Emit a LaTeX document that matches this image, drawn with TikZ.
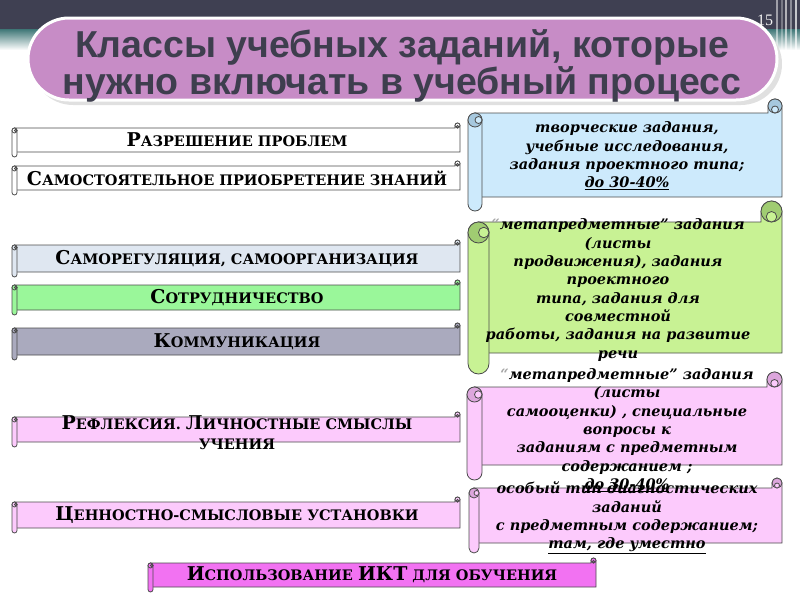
\documentclass[tikz,border=0pt]{standalone}
\usepackage{fontspec}
\setmainfont{Liberation Serif}
\newfontfamily\titlefont{Liberation Sans}
\newfontfamily\notefont{DejaVu Serif}

\definecolor{bandgray}{HTML}{3F4052}
\definecolor{bandteal}{HTML}{3E7676}
\definecolor{titlepink}{HTML}{C78CC6}
\definecolor{titletext}{HTML}{3E3E4E}
\definecolor{skyfill}{HTML}{CDEAFC}
\definecolor{skycurl}{HTML}{A6C8DE}
\definecolor{leaffill}{HTML}{C8F294}
\definecolor{leafcurl}{HTML}{A0CC72}
\definecolor{rosefill}{HTML}{FCCAFC}
\definecolor{rosecurl}{HTML}{DCA6DC}
\definecolor{mistfill}{HTML}{DFE7F1}
\definecolor{mintfill}{HTML}{9AF79A}
\definecolor{slatefill}{HTML}{AAAABE}
\definecolor{orchidfill}{HTML}{F272F2}

\newcommand{\bigc}[1]{{\fontsize{19}{21}\selectfont #1}}

\newcommand{\scrollshape}[7]{%
  \pgfmathsetmacro{\hc}{#5/2}%
  \pgfmathsetmacro{\qc}{#5/4}%
  \draw[scrollline,fill=#6] ({#1+\hc},{#2+#5}) -- ({#3-#5},{#2+#5}) -- ({#3-#5},{#2+\hc})
    arc[start angle=180,end angle=360,radius=\hc] -- (#3,{#4-#5}) -- ({#1+\hc},{#4-#5}) -- cycle;
  \draw[scrollline,fill=#7] ({#3-\hc},{#2+\hc}) circle[radius=\hc];
  \draw[scrollline,fill=#6] ({#3-\hc},{#2+#5-\qc}) circle[radius=\qc];
  \draw[scrollline,fill=#6,rounded corners=\hc pt] (#1,{#2+#5}) rectangle ({#1+#5},#4);
  \draw[scrollline,fill=#7] ({#1+\hc},{#2+#5+\hc}) circle[radius=\hc];
  \draw[scrollline,fill=#6] ({#1+\hc+\qc},{#2+#5+\hc}) circle[radius=\qc];
}

\begin{document}
\begin{tikzpicture}[x=1pt,y=-1pt,
  scrollline/.style={draw=black!70,line width=0.8pt},
  bartext/.style={font=\notefont\bfseries\fontsize{14.5}{20}\selectfont,align=center},
  notetext/.style={font=\notefont\bfseries\itshape\fontsize{14.5}{18.3}\selectfont,align=center}]
  \useasboundingbox (0,0) rectangle (800,600);
  \fill[bandgray] (0,0) rectangle (800,29);
  \shade[top color=bandteal,bottom color=white] (0,29) rectangle (800,50);
  \foreach \sx/\so in {776/0.5,781/0.3,785/0.6,790/0.4,795/0.7}
    \fill[white,opacity=\so] (\sx,0) rectangle ({\sx+2},55);
  \fill[black!12,rounded corners=41pt] (32,23) rectangle (782,105);
  \draw[white,line width=3pt,fill=titlepink,rounded corners=41pt] (28,18) rectangle (777,100);
  \node[font=\titlefont\bfseries\fontsize{37.5}{34}\selectfont,text=titletext,align=center] (title) at (402,66)
    {Классы учебных заданий, которые\\нужно включать в учебный процесс};
  \node[text=white!95!black,font=\fontsize{16}{16}\selectfont] (slidenum) at (765,20) {15};

  \scrollshape{12}{123}{460}{157}{5}{white}{white}
  \scrollshape{12}{161}{460}{195}{5}{white}{white}
  \scrollshape{12}{240}{460}{277}{5}{mistfill}{mistfill}
  \scrollshape{12}{280}{460}{315}{5}{mintfill}{mintfill}
  \scrollshape{12}{323}{460}{360}{5}{slatefill}{slatefill}
  \scrollshape{12}{412}{460}{447}{5}{rosefill}{rosefill}
  \scrollshape{12}{497}{460}{533}{5}{rosefill}{rosefill}
  \scrollshape{148}{558}{596}{592}{5}{orchidfill}{orchidfill}

  \scrollshape{468}{99}{782}{211}{14}{skyfill}{skycurl}
  \scrollshape{468}{201}{782}{374}{21}{leaffill}{leafcurl}
  \scrollshape{467}{372}{782}{480}{15}{rosefill}{rosecurl}
  \scrollshape{469}{478}{782}{553}{10}{rosefill}{rosecurl}

  \node[bartext] (solve) at (237,140) {\bigc{Р}АЗРЕШЕНИЕ ПРОБЛЕМ};
  \node[bartext] (selfstudy) at (237,178) {\bigc{С}АМОСТОЯТЕЛЬНОЕ ПРИОБРЕТЕНИЕ ЗНАНИЙ};
  \node[bartext] (selfreg) at (237,259) {\bigc{С}АМОРЕГУЛЯЦИЯ, САМООРГАНИЗАЦИЯ};
  \node[bartext] (team) at (237,298) {\bigc{С}ОТРУДНИЧЕСТВО};
  \node[bartext] (talk) at (237,342) {\bigc{К}ОММУНИКАЦИЯ};
  \node[bartext] (reflect) at (237,433) {\bigc{Р}ЕФЛЕКСИЯ. \bigc{Л}ИЧНОСТНЫЕ СМЫСЛЫ\\УЧЕНИЯ};
  \node[bartext] (values) at (237,515) {\bigc{Ц}ЕННОСТНО-СМЫСЛОВЫЕ УСТАНОВКИ};
  \node[bartext] (ict) at (372,575) {\bigc{И}СПОЛЬЗОВАНИЕ \bigc{ИКТ} ДЛЯ ОБУЧЕНИЯ};

  \node[notetext] (creative) at (627,156) {творческие задания,\\учебные исследования,\\задания проектного типа;\\\underline{до 30-40\%}};
  \node[notetext] (meta) at (618,290) {{\color{black!35}“}метапредметные” задания\\(листы\\продвижения), задания\\проектного\\типа,  задания для\\совместной\\работы, задания на развитие\\речи};
  \node[notetext] (selfeval) at (627,430) {{\color{black!35}“}метапредметные” задания\\(листы\\самооценки) , специальные\\вопросы к\\заданиям с предметным\\содержанием ;\\\underline{до 30-40\%}};
  \node[notetext] (diag) at (627,518) {особый тип диагностических\\заданий\\с предметным содержанием;\\\underline{там, где уместно}};
\end{tikzpicture}
\end{document}
